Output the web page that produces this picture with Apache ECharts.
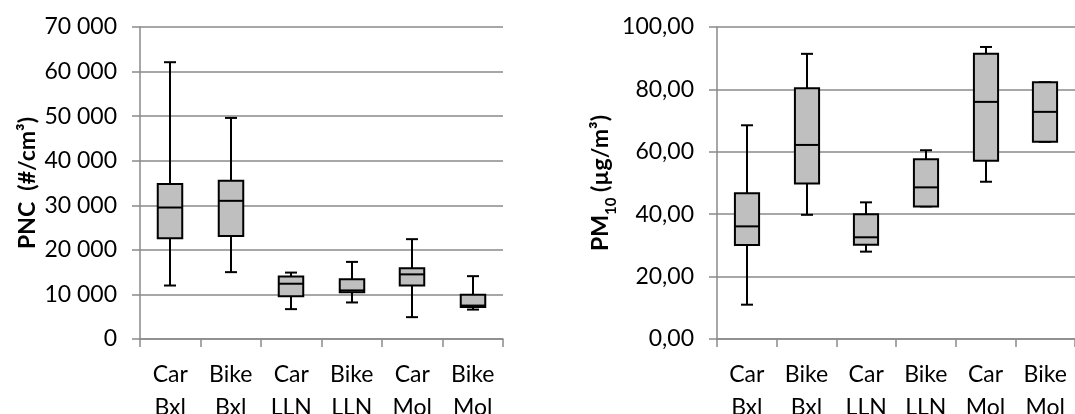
<!DOCTYPE html>
<html>
<head>
<meta charset="utf-8">
<script src="https://cdn.jsdelivr.net/npm/echarts@6/dist/echarts.min.js"></script>
<style>
  html, body { margin: 0; padding: 0; background: #fff; }
  #chart { width: 1075px; height: 414px; }
</style>
</head>
<body>
<div id="chart"></div>
<script>
// Trip categories (mode + city)
const categories = ['Car\nBxl', 'Bike\nBxl', 'Car\nLLN', 'Bike\nLLN', 'Car\nMol', 'Bike\nMol'];

// Box statistics per category: [min, Q1, median, Q3, max]
const pncStats = [
  [12000, 22600, 29500, 34800, 62100],
  [15000, 23100, 31000, 35500, 49600],
  [6700, 9600, 12400, 14000, 14900],
  [8200, 10500, 10900, 13400, 17300],
  [4900, 12000, 14500, 15900, 22400],
  [6600, 7200, 7500, 9900, 14100]
];
const pm10Stats = [
  [11.0, 30.1, 36.1, 46.7, 68.5],
  [39.8, 49.8, 62.2, 80.4, 91.4],
  [28.0, 30.2, 32.6, 40.0, 43.8],
  [42.5, 42.5, 48.6, 57.6, 60.5],
  [50.4, 57.1, 76.0, 91.4, 93.6],
  [63.2, 63.2, 72.8, 82.3, 82.3]
];

// Value axis ranges
const pncAxis = { min: 0, max: 70000, interval: 10000 };
const pm10Axis = { min: 0, max: 100, interval: 20 };

const FONT = 'Lato, "Open Sans", "DejaVu Sans", sans-serif';
const GRID_GRAY = '#8a8a8a';

const fmtThousands = v => String(v).replace(/\B(?=(\d{3})+(?!\d))/g, ' ');
const fmtDecimalComma = v => v.toFixed(2).replace('.', ',');

// Draws one box-and-whisker glyph with narrow whisker caps
function renderBox(params, api) {
  const i = api.value(0);
  const lo = api.coord([i, api.value(1)]);
  const q1 = api.coord([i, api.value(2)]);
  const md = api.coord([i, api.value(3)]);
  const q3 = api.coord([i, api.value(4)]);
  const hi = api.coord([i, api.value(5)]);
  const band = api.size([1, 0])[0];
  const bw = band * 0.405;
  const cw = 12;
  const x = Math.round(lo[0]);
  const seg = (x1, y1, x2, y2) => ({
    type: 'line',
    shape: { x1, y1, x2, y2 },
    style: { stroke: '#000', lineWidth: 2 }
  });
  return {
    type: 'group',
    children: [
      seg(x, hi[1], x, q3[1]),
      seg(x - cw / 2, hi[1], x + cw / 2, hi[1]),
      seg(x, lo[1], x, q1[1]),
      seg(x - cw / 2, lo[1], x + cw / 2, lo[1]),
      {
        type: 'rect',
        shape: { x: x - bw / 2, y: q3[1], width: bw, height: q1[1] - q3[1] },
        style: { fill: '#bfbfbf', stroke: '#000', lineWidth: 2 }
      },
      seg(x - bw / 2, md[1], x + bw / 2, md[1])
    ]
  };
}

function xAxisFor(gridIndex) {
  return {
    type: 'category',
    gridIndex,
    data: categories,
    axisLine: { lineStyle: { color: GRID_GRAY, width: 1.5 } },
    axisTick: { show: true, length: 8, lineStyle: { color: GRID_GRAY, width: 1.5 } },
    axisLabel: {
      interval: 0, color: '#000', fontFamily: FONT, fontSize: 23,
      lineHeight: 33, margin: 19
    }
  };
}

function yAxisFor(gridIndex, range, formatter, name, rich) {
  return {
    type: 'value',
    gridIndex,
    min: range.min, max: range.max, interval: range.interval,
    axisLine: { show: true, lineStyle: { color: GRID_GRAY, width: 1.5 } },
    axisTick: { show: true, length: 8, lineStyle: { color: GRID_GRAY, width: 1.5 } },
    splitLine: { show: true, lineStyle: { color: GRID_GRAY, width: 1.5 } },
    axisLabel: { color: '#000', fontFamily: FONT, fontSize: 23, margin: 23, formatter },
    name,
    nameLocation: 'middle',
    nameGap: 101,
    nameTextStyle: {
      color: '#000', fontFamily: FONT, fontSize: 23, fontWeight: 'bold', rich
    }
  };
}

const chart = echarts.init(document.getElementById('chart'), null, { renderer: 'canvas' });

chart.setOption({
  animation: false,
  backgroundColor: '#fff',
  grid: [
    { left: 140, top: 27, width: 363, height: 312, containLabel: false, outerBoundsMode: 'none' },
    { left: 717, top: 27, width: 358, height: 312, containLabel: false, outerBoundsMode: 'none' }
  ],
  xAxis: [xAxisFor(0), xAxisFor(1)],
  yAxis: [
    yAxisFor(0, pncAxis, fmtThousands, 'PNC  (#/cm³)'),
    yAxisFor(1, pm10Axis, fmtDecimalComma, '{b|PM}{s|10}{b| (µg/m³)}', {
      b: { fontFamily: FONT, fontSize: 23, fontWeight: 'bold', color: '#000' },
      s: { fontFamily: FONT, fontSize: 15, fontWeight: 'bold', color: '#000', verticalAlign: 'bottom', padding: [0, 0, -6, 0] }
    })
  ],
  series: [
    {
      type: 'custom', xAxisIndex: 0, yAxisIndex: 0,
      renderItem: renderBox,
      encode: { x: 0, y: [1, 2, 3, 4, 5] },
      data: pncStats.map((s, i) => [i, ...s]),
      z: 3
    },
    {
      type: 'custom', xAxisIndex: 1, yAxisIndex: 1,
      renderItem: renderBox,
      encode: { x: 0, y: [1, 2, 3, 4, 5] },
      data: pm10Stats.map((s, i) => [i, ...s]),
      z: 3
    }
  ]
});
</script>
</body>
</html>
